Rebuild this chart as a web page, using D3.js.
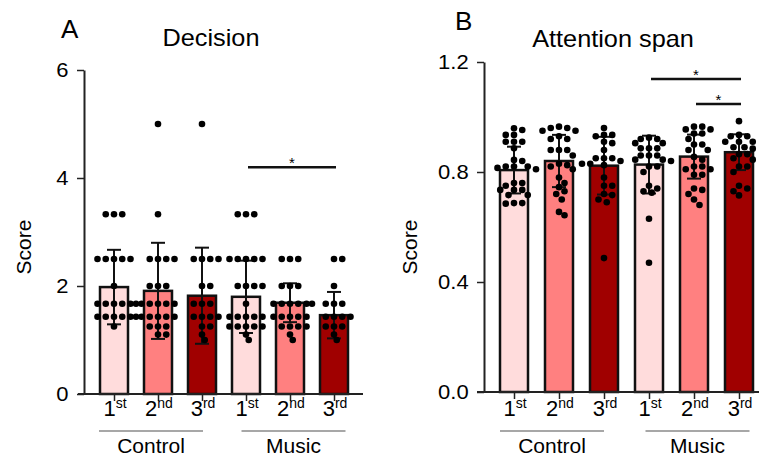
<!DOCTYPE html>
<html><head><meta charset="utf-8">
<script src="https://cdn.jsdelivr.net/npm/d3@7"></script>
<style>
body{margin:0;background:#fff}
text{font-family:"Liberation Sans",Arial,Helvetica,sans-serif;fill:#000}
</style>
</head><body>
<svg id="chart" width="759" height="459"></svg>
<script>
// ---------- DATA ----------
const categories = ["Control 1st","Control 2nd","Control 3rd","Music 1st","Music 2nd","Music 3rd"];
const sessionNums = ["1","2","3","1","2","3"];
const sessionSups = ["st","nd","rd","st","nd","rd"];
const groups = ["Control","Music"];
const barColors = ["#ffdcdc","#ff8080","#a00000","#ffdcdc","#ff8080","#a00000"];

// Panel A: Decision
const decisionMean = [1.98, 1.91, 1.82, 1.80, 1.69, 1.46];
const decisionSD   = [0.69, 0.89, 0.89, 0.67, 0.36, 0.43];
const decisionPoints = [
  [3.33,3.33,3.33, 2.5,2.5,2.5,2.5,2.5, 2.0, 1.67,1.67,1.67,1.67,1.67,1.67, 1.43,1.43,1.43,1.43,1.43,1.43, 1.25],
  [5.0, 3.33, 2.5,2.5,2.5,2.5, 2.0,2.0,2.0, 1.67,1.67,1.67,1.67,1.67, 1.43,1.43,1.43,1.43,1.43, 1.25,1.25,1.25, 1.1,1.1],
  [5.0, 2.5,2.5,2.5,2.5, 2.0,2.0, 1.67,1.67,1.67, 1.43,1.43,1.43,1.43, 1.25,1.25, 1.1,1.0],
  [3.33,3.33,3.33, 2.5,2.5,2.5,2.5,2.5, 2.0,2.0,2.0,2.0, 1.67, 1.43,1.43,1.43,1.43,1.43, 1.25,1.25,1.25,1.25,1.25, 1.1,1.0],
  [2.5,2.5,2.5, 2.0,2.0,2.0, 1.67,1.67,1.67,1.67,1.67,1.67, 1.43,1.43,1.43,1.43,1.43, 1.25,1.25,1.25,1.25, 1.1,1.0],
  [2.5,2.5, 2.0, 1.67,1.67,1.67, 1.43,1.43,1.43,1.43, 1.25,1.25,1.25, 1.1,1.0]
];
const decisionTicks = [0, 2, 4, 6];
const decisionSig = [{from: 3, to: 5, level: 4.2, label: "*"}];

// Panel B: Attention span
const attentionMean = [0.807, 0.840, 0.823, 0.827, 0.856, 0.872];
const attentionSD   = [0.085, 0.095, 0.105, 0.105, 0.080, 0.065];
const attentionPoints = [
  [0.959,0.953,0.935,0.935,0.91,0.91,0.91,0.886,0.844,0.84,0.82,0.82,0.82,0.815,0.81,0.76,0.76,0.75,0.735,0.735,0.735,0.716,0.716,0.687,0.687,0.685],
  [0.965,0.96,0.96,0.95,0.95,0.93,0.92,0.92,0.88,0.88,0.88,0.86,0.83,0.825,0.82,0.81,0.78,0.76,0.745,0.73,0.72,0.70,0.655,0.643],
  [0.96,0.935,0.935,0.93,0.91,0.905,0.88,0.85,0.85,0.85,0.84,0.83,0.83,0.825,0.78,0.75,0.75,0.72,0.716,0.70,0.69,0.487],
  [0.925,0.92,0.92,0.905,0.905,0.886,0.886,0.886,0.86,0.86,0.86,0.845,0.845,0.84,0.82,0.82,0.80,0.75,0.74,0.73,0.725,0.63,0.47],
  [0.965,0.965,0.955,0.955,0.94,0.94,0.92,0.90,0.90,0.88,0.88,0.855,0.845,0.82,0.82,0.81,0.81,0.79,0.79,0.74,0.735,0.72,0.70,0.68],
  [0.985,0.935,0.93,0.93,0.91,0.91,0.91,0.89,0.89,0.885,0.865,0.865,0.85,0.845,0.82,0.82,0.80,0.75,0.74,0.73,0.715]
];
const attentionTicks = [0, 0.4, 0.8, 1.2];
const attentionSig = [
  {from: 3, to: 5, level: 1.138, label: "*"},
  {from: 4, to: 5, level: 1.047, label: "*"}
];

// ---------- DRAWING ----------
const svg = d3.select("#chart");

function stext(g, x, y, s, size, anchor, sx) {
  return g.append("text")
    .attr("transform", `translate(${x},${y}) scale(${sx || 1},1)`)
    .attr("text-anchor", anchor || "start")
    .style("font-size", size + "px")
    .text(s);
}

function drawPanel(cfg) {
  const g = svg.append("g");
  const y = d3.scaleLinear().domain(cfg.domain).range([cfg.yBottom, cfg.yTop]);
  const x = d3.scalePoint().domain(categories).range([cfg.x0, cfg.x1]);
  const bw = 28, r = 3.3;

  // bars
  g.selectAll("rect.bar").data(cfg.mean).join("rect")
    .attr("x", (d, i) => x(categories[i]) - bw / 2)
    .attr("y", d => y(d))
    .attr("width", bw)
    .attr("height", d => y(0) - y(d))
    .attr("fill", (d, i) => barColors[i])
    .attr("stroke", "#111")
    .attr("stroke-width", 2.5);

  // error bars
  cfg.mean.forEach((m, i) => {
    const cx = x(categories[i]);
    const lo = m - cfg.sd[i], hi = m + cfg.sd[i];
    g.append("line").attr("x1", cx).attr("x2", cx).attr("y1", y(lo)).attr("y2", y(hi))
      .attr("stroke", "#111").attr("stroke-width", 2);
    [lo, hi].forEach(v => g.append("line").attr("x1", cx - 7).attr("x2", cx + 7)
      .attr("y1", y(v)).attr("y2", y(v)).attr("stroke", "#111").attr("stroke-width", 2));
  });

  // points (swarm layout)
  cfg.points.forEach((pts, i) => {
    const cx = x(categories[i]);
    const placed = [];
    const sorted = pts.slice().sort((a, b) => b - a);
    sorted.forEach(v => {
      const py = y(v);
      const cands = [0];
      for (let k = 1; k <= 8; k++) { cands.push(k * 2.75, -k * 2.75); }
      let best = null, bestScore = -1;
      for (const dx of cands) {
        let minD = Infinity;
        placed.forEach(p => { minD = Math.min(minD, Math.hypot(p[0] - dx, p[1] - py)); });
        if (minD >= cfg.minDist) { best = dx; break; }
        if (minD > bestScore) { bestScore = minD; best = dx; }
      }
      placed.push([best, py]);
    });
    g.selectAll(null).data(placed).join("circle")
      .attr("cx", d => cx + d[0]).attr("cy", d => d[1]).attr("r", r).attr("fill", "#000");
  });

  // y axis
  const ya = g.append("g").attr("transform", `translate(${cfg.axisX},0)`)
    .call(d3.axisLeft(y).tickValues(cfg.ticks).tickFormat(cfg.fmt).tickSize(7).tickPadding(7).tickSizeOuter(0));
  ya.select(".domain").attr("stroke", "#222").attr("stroke-width", 2);
  ya.selectAll(".tick line").attr("stroke", "#222").attr("stroke-width", 1.5);
  ya.selectAll(".tick text").style("font-size", "20px").style("font-family", '"Liberation Sans",Arial,sans-serif')
    .attr("fill", "#000").attr("transform", "scale(1.1,1)");

  // x axis
  const xa = g.append("g").attr("transform", `translate(0,${y(0)})`)
    .call(d3.axisBottom(x).tickSize(7).tickFormat("").tickSizeOuter(0));
  xa.select(".domain").remove();
  xa.selectAll(".tick line").attr("stroke", "#222").attr("stroke-width", 1.5);
  g.append("line").attr("x1", cfg.baseX0).attr("x2", cfg.baseX1).attr("y1", y(0)).attr("y2", y(0))
    .attr("stroke", "#222").attr("stroke-width", 2);

  // session labels
  categories.forEach((c, i) => {
    const t = g.append("text").attr("x", x(c) + 1).attr("y", 416).attr("text-anchor", "middle")
      .style("font-size", "22px");
    t.append("tspan").text(sessionNums[i]);
    t.append("tspan").attr("dy", -8).style("font-size", "14px").text(sessionSups[i]);
  });

  // group lines & labels
  const gCenters = [x(categories[1]) - 7, x(categories[4]) + 3.5];
  groups.forEach((gr, k) => {
    const c = gCenters[k];
    g.append("line").attr("x1", c - 52).attr("x2", c + 52).attr("y1", 431).attr("y2", 431)
      .attr("stroke", "#8a8a8a").attr("stroke-width", 1.5);
    stext(g, c, 453, gr, 20, "middle", 1.05);
  });

  // significance
  cfg.sig.forEach(s => {
    const xa1 = x(categories[s.from]) + 2, xa2 = x(categories[s.to]) + 2;
    const ly = y(s.level);
    g.append("line").attr("x1", xa1).attr("x2", xa2).attr("y1", ly).attr("y2", ly)
      .attr("stroke", "#111").attr("stroke-width", 2.5);
    stext(g, (xa1 + xa2) / 2, ly + 1, s.label, 15, "middle", 1);
  });

  // y label
  g.append("text").attr("transform", `translate(${cfg.labelX},247) rotate(-90)`)
    .attr("text-anchor", "middle").style("font-size", "21px").text("Score");

  // title & letter
  stext(g, cfg.titleX, cfg.titleY, cfg.title, 23, "middle", 1.1);
  stext(g, cfg.letterX, cfg.letterY, cfg.letter, 26, "start", 1);
}

drawPanel({
  domain: [0, 6], yBottom: 394, yTop: 70, x0: 114, x1: 334, axisX: 84,
  baseX0: 78, baseX1: 363, mean: decisionMean, sd: decisionSD, points: decisionPoints,
  ticks: decisionTicks, fmt: d3.format("d"), sig: decisionSig, minDist: 5.6,
  labelX: 31, title: "Decision", titleX: 211, titleY: 46, letter: "A", letterX: 61, letterY: 38
});
drawPanel({
  domain: [0, 1.2], yBottom: 392, yTop: 62, x0: 514, x1: 739, axisX: 484,
  baseX0: 477, baseX1: 759, mean: attentionMean, sd: attentionSD, points: attentionPoints,
  ticks: attentionTicks, fmt: d3.format(".1f"), sig: attentionSig, minDist: 6.2,
  labelX: 417, title: "Attention span", titleX: 613, titleY: 47, letter: "B", letterX: 455, letterY: 30
});
</script>
</body></html>
